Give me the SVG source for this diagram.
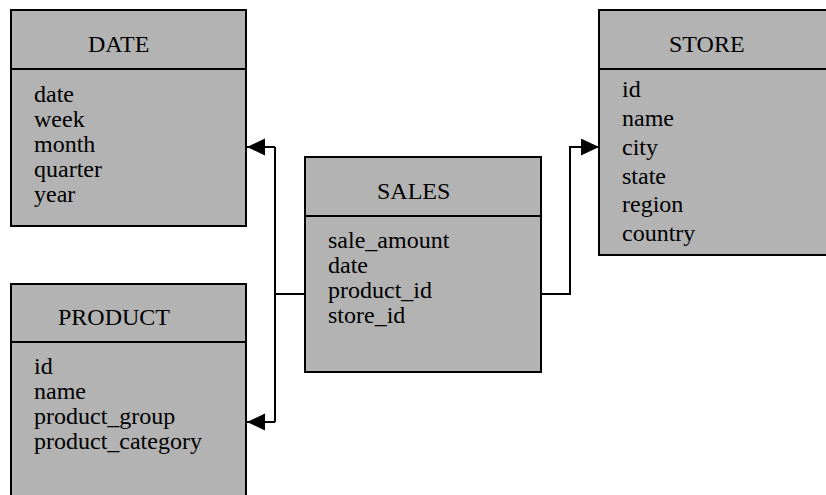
<svg xmlns="http://www.w3.org/2000/svg" width="826" height="495" viewBox="0 0 826 495">
<defs>
<style>
.box{fill:#b3b3b3;stroke:#000;stroke-width:2}
.div{stroke:#000;stroke-width:2}
.t{font-family:"Liberation Serif","Times New Roman",serif;font-size:24px;fill:#000}
.c{fill:none;stroke:#000;stroke-width:2}
</style>
<marker id="ah" markerUnits="userSpaceOnUse" markerWidth="18" markerHeight="18" refX="18" refY="8.5" orient="auto">
<path d="M0,0 L18,8.5 L0,17 z" fill="#000"/>
</marker>
</defs>
<rect width="826" height="495" fill="#fff"/>
<g id="connectors">
<path class="c" d="M305,294 H275"/>
<path class="c" d="M275,147 V422"/>
<path class="c" d="M275,147 H247" marker-end="url(#ah)"/>
<path class="c" d="M275,422 H247" marker-end="url(#ah)"/>
<path class="c" d="M541,294 H570 V147 H599" marker-end="url(#ah)"/>
</g>
<g id="date">
<rect class="box" x="11" y="10" width="235" height="216"/>
<line class="div" x1="11" y1="69" x2="246" y2="69"/>
<text class="t" x="88" y="52">DATE</text>
<text class="t" x="34" y="102">date</text>
<text class="t" x="34" y="127">week</text>
<text class="t" x="34" y="152">month</text>
<text class="t" x="34" y="177">quarter</text>
<text class="t" x="34" y="202">year</text>
</g>
<g id="product">
<rect class="box" x="11" y="284" width="235" height="220"/>
<line class="div" x1="11" y1="342" x2="246" y2="342"/>
<text class="t" x="58" y="325">PRODUCT</text>
<text class="t" x="34" y="374">id</text>
<text class="t" x="34" y="399">name</text>
<text class="t" x="34" y="424">product_group</text>
<text class="t" x="34" y="449">product_category</text>
</g>
<g id="sales">
<rect class="box" x="305" y="157" width="236" height="215"/>
<line class="div" x1="305" y1="216" x2="541" y2="216"/>
<text class="t" x="377" y="199">SALES</text>
<text class="t" x="328" y="248">sale_amount</text>
<text class="t" x="328" y="273">date</text>
<text class="t" x="328" y="298">product_id</text>
<text class="t" x="328" y="323">store_id</text>
</g>
<g id="store">
<rect class="box" x="599" y="10" width="240" height="245"/>
<line class="div" x1="599" y1="69" x2="839" y2="69"/>
<text class="t" x="669" y="52">STORE</text>
<text class="t" x="622" y="97">id</text>
<text class="t" x="622" y="126">name</text>
<text class="t" x="622" y="155">city</text>
<text class="t" x="622" y="184">state</text>
<text class="t" x="622" y="212">region</text>
<text class="t" x="622" y="241">country</text>
</g>
</svg>
